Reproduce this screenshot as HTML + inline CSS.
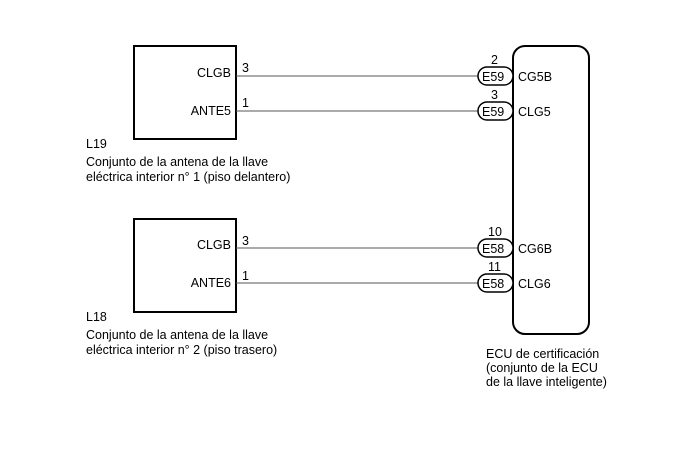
<!DOCTYPE html>
<html><head><meta charset="utf-8"><style>
body{margin:0;background:#fff}
svg text{font-family:"Liberation Sans",Arial,sans-serif;font-size:12.5px;fill:#000}
</style></head><body>
<svg width="688" height="463" viewBox="0 0 688 463" xmlns="http://www.w3.org/2000/svg">
<g fill="none" stroke="#000" stroke-width="2">
<rect x="134" y="46" width="102" height="93"/>
<rect x="134" y="219" width="102" height="93"/>
<rect x="513" y="46" width="76" height="288" rx="12"/>
</g>
<g stroke="#555" stroke-width="1">
<line x1="236" y1="76" x2="478" y2="76"/>
<line x1="236" y1="111" x2="478" y2="111"/>
<line x1="236" y1="248" x2="478" y2="248"/>
<line x1="236" y1="283" x2="478" y2="283"/>
</g>
<g fill="#fff" stroke="#000" stroke-width="1.5">
<rect x="478" y="67" width="35" height="18" rx="9"/>
<rect x="478" y="102" width="35" height="18" rx="9"/>
<rect x="478" y="239" width="35" height="18" rx="9"/>
<rect x="478" y="274" width="35" height="18" rx="9"/>
</g>
<text x="482" y="81">E59</text><text x="482" y="116">E59</text>
<text x="482" y="253">E58</text><text x="482" y="288">E58</text>
<text x="491" y="64">2</text><text x="491" y="99">3</text>
<text x="488" y="236">10</text><text x="488" y="271">11</text>
<text x="518" y="81">CG5B</text><text x="518" y="116">CLG5</text>
<text x="518" y="253">CG6B</text><text x="518" y="288">CLG6</text>
<text x="231" y="77" text-anchor="end">CLGB</text>
<text x="231" y="115" text-anchor="end">ANTE5</text>
<text x="231" y="249" text-anchor="end">CLGB</text>
<text x="231" y="287" text-anchor="end">ANTE6</text>
<text x="242" y="72">3</text><text x="242" y="107">1</text>
<text x="242" y="245">3</text><text x="242" y="280">1</text>
<text x="86" y="148">L19</text>
<text x="86" y="166">Conjunto de la antena de la llave</text>
<text x="86" y="181">eléctrica interior n° 1 (piso delantero)</text>
<text x="86" y="321">L18</text>
<text x="86" y="339">Conjunto de la antena de la llave</text>
<text x="86" y="354">eléctrica interior n° 2 (piso trasero)</text>
<text x="486" y="358">ECU de certificación</text>
<text x="486" y="372">(conjunto de la ECU</text>
<text x="486" y="386">de la llave inteligente)</text>
</svg>
</body></html>
